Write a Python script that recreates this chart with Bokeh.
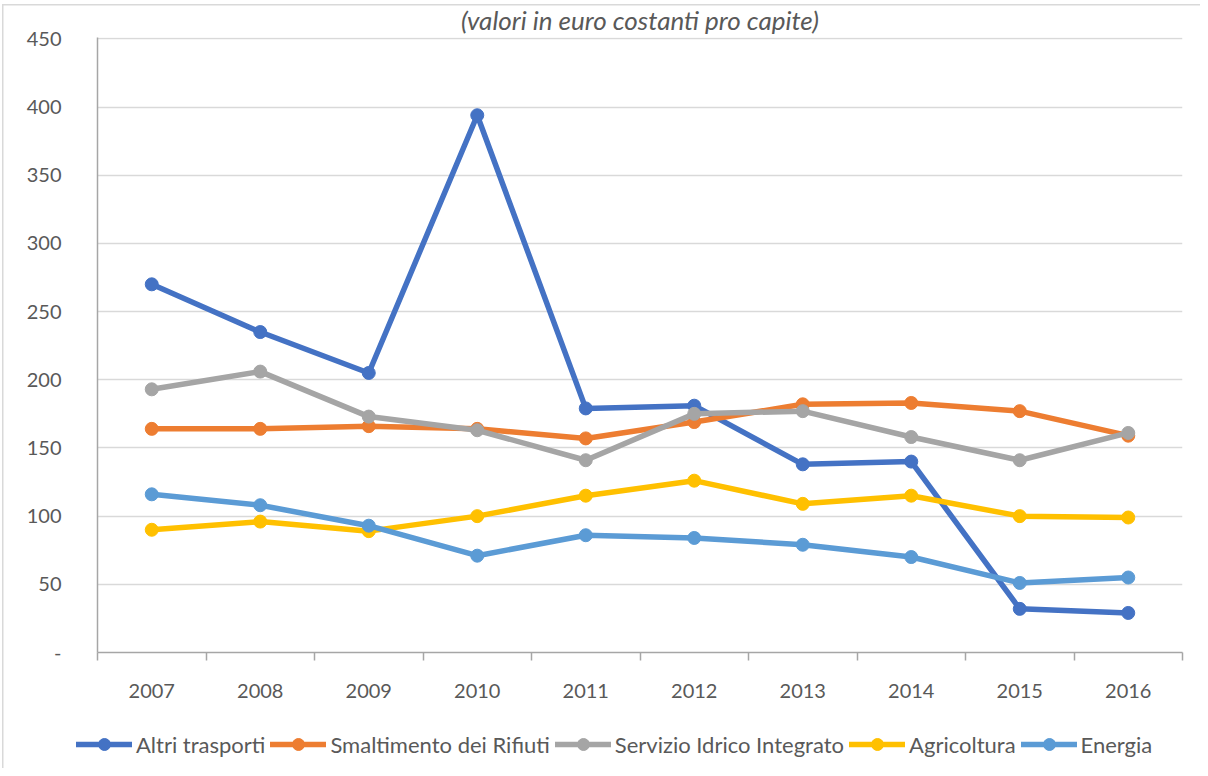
import numpy as np
from bokeh.plotting import figure
from bokeh.layouts import column
from bokeh.models import (Range1d, FixedTicker, Legend, LegendItem, Title)
from bokeh.embed import file_html
from bokeh.resources import INLINE

years = ["2007", "2008", "2009", "2010", "2011", "2012", "2013", "2014", "2015", "2016"]
altri_trasporti = [270, 235, 205, 394, 179, 181, 138, 140, 32, 29]
smaltimento_rifiuti = [164, 164, 166, 164, 157, 169, 182, 183, 177, 159]
servizio_idrico = [193, 206, 173, 163, 141, 175, 177, 158, 141, 161]
agricoltura = [90, 96, 89, 100, 115, 126, 109, 115, 100, 99]
energia = [116, 108, 93, 71, 86, 84, 79, 70, 51, 55]

series_names = ["Altri trasporti", "Smaltimento dei Rifiuti", "Servizio Idrico Integrato",
                "Agricoltura", "Energia"]
series_values = [altri_trasporti, smaltimento_rifiuti, servizio_idrico, agricoltura, energia]
series_colors = ["#4472C4", "#ED7D31", "#A5A5A5", "#FFC000", "#5B9BD5"]
y_ticks = [0, 50, 100, 150, 200, 250, 300, 350, 400, 450]
title_text = "(valori in euro costanti pro capite)"

FONT = "Lato"
TXT = "#595959"

xs = [i + 0.5 for i in range(len(years))]

p = figure(width=1200, height=720, output_backend="svg", toolbar_location=None,
           x_range=Range1d(0, len(years)), y_range=Range1d(0, 451),
           min_border_left=97, min_border_right=18, min_border_top=32, min_border_bottom=68)
p.outline_line_color = None
p.background_fill_color = "white"
p.border_fill_alpha = 0
p.styles = {
    "background": ("linear-gradient(#d9d9d9, #d9d9d9) 2px 4px / 1.5px 100% no-repeat, "
                   "linear-gradient(#d9d9d9, #d9d9d9) 2px 4px / 100% 1.5px no-repeat, white"),
}

# title
p.title = Title(text=title_text, align="center", text_font=FONT, text_font_style="italic",
                text_font_size="26px", text_color=TXT, standoff=3, offset=-30)

# x axis
p.xaxis.ticker = FixedTicker(ticks=xs, minor_ticks=list(range(len(years) + 1)))
p.xaxis.major_label_overrides = {x: y for x, y in zip(xs, years)}
p.xaxis.major_tick_in = 0
p.xaxis.major_tick_out = 0
p.xaxis.minor_tick_in = 0
p.xaxis.minor_tick_out = 8
p.xaxis.minor_tick_line_color = "#a6a6a6"
p.xaxis.minor_tick_line_width = 1.5
p.xaxis.axis_line_color = "#a6a6a6"
p.xaxis.axis_line_width = 1.5
p.xaxis.major_label_standoff = 23
p.xaxis.major_label_text_font = FONT
p.xaxis.major_label_text_font_size = "20px"
p.xaxis.major_label_text_color = TXT

# y axis
p.yaxis.ticker = FixedTicker(ticks=y_ticks, minor_ticks=[])
p.yaxis.major_label_overrides = {0: "-"}
p.yaxis.major_tick_in = 0
p.yaxis.major_tick_out = 0
p.yaxis.minor_tick_in = 0
p.yaxis.minor_tick_out = 0
p.yaxis.axis_line_color = "#a6a6a6"
p.yaxis.axis_line_width = 1.5
p.yaxis.major_label_standoff = 36
p.yaxis.major_label_text_font = FONT
p.yaxis.major_label_text_font_size = "20px"
p.yaxis.major_label_text_color = TXT

p.xgrid.grid_line_color = None
p.ygrid.grid_line_color = "#d9d9d9"
p.ygrid.grid_line_width = 1.5

# legend strip under the chart
leg = figure(width=1200, height=48, output_backend="svg", toolbar_location=None,
             x_axis_location=None, y_axis_location=None,
             x_range=Range1d(0, 1), y_range=Range1d(0, 1),
             min_border_left=0, min_border_right=0, min_border_top=0, min_border_bottom=0)
leg.outline_line_color = None
leg.grid.visible = False
leg.background_fill_alpha = 0
leg.border_fill_alpha = 0
leg.styles = {
    "background": "linear-gradient(#d9d9d9, #d9d9d9) 2px 0px / 1.5px 100% no-repeat, white",
}

placeholder = np.array([np.nan])
items = []
for name, vals, col in zip(series_names, series_values, series_colors):
    p.line(xs, vals, line_color=col, line_width=5.5, line_join="round", line_cap="round")
    p.scatter(xs, vals, size=13, marker="circle", fill_color=col, line_color=col)
    l1 = leg.line(placeholder, placeholder, line_color=col, line_width=5.5, line_cap="round")
    l2 = leg.scatter(placeholder, placeholder, size=13, marker="circle",
                     fill_color=col, line_color=col)
    items.append(LegendItem(label=name, renderers=[l1, l2]))

legend = Legend(items=items, orientation="horizontal", location=(76, 9),
                glyph_width=56, glyph_height=30, label_standoff=4, spacing=5,
                padding=0, margin=0, border_line_color=None, background_fill_alpha=0,
                label_text_font=FONT, label_text_font_size="22px", label_text_color=TXT)
leg.add_layout(legend, "center")

layout = column(column(p), column(leg), spacing=0)
open("out.html", "w").write(file_html(layout, INLINE))
